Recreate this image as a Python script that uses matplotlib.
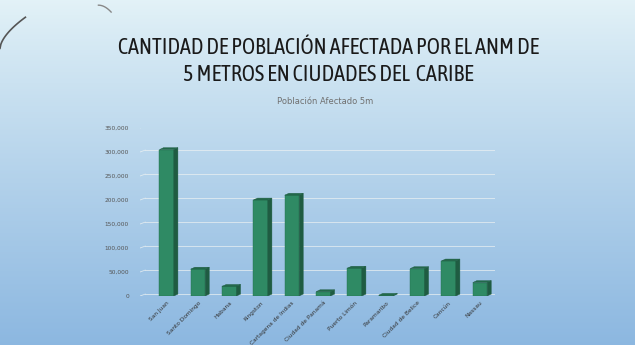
import numpy as np
import matplotlib
matplotlib.use("Agg")
import matplotlib.pyplot as plt
from matplotlib.patches import Polygon
from matplotlib import font_manager

ciudades = ["San Juan", "Santo Domingo", "Habana", "Kingston", "Cartagena de Indias",
            "Ciudad de Panamá", "Puerto Limón", "Paramaribo", "Ciudad de Belice",
            "Cancún", "Nassau"]
poblacion = [305000, 56000, 20000, 200000, 210000, 9000, 58000, 1500, 57000, 73000, 28000]
yticks = [0, 50000, 100000, 150000, 200000, 250000, 300000, 350000]

# condensed upright face for the title (Agency-like look)
cands = [f for f in font_manager.fontManager.ttflist
         if f.name in ("Asap Condensed", "Archivo Narrow")
         and f.style == "normal" and f.weight in (400, "normal", "regular")]
if cands:
    cands.sort(key=lambda f: f.name != "Asap Condensed")
    title_fp = font_manager.FontProperties(fname=cands[0].fname, size=16)
else:
    title_fp = font_manager.FontProperties(family="DejaVu Sans", size=12.5)

fig = plt.figure(figsize=(6.35, 3.45), dpi=100)

# background gradient
bg = fig.add_axes([0, 0, 1, 1], zorder=0)
grad = np.linspace(0, 1, 256).reshape(-1, 1)
top = np.array([0.89, 0.95, 0.97])
bot = np.array([0.55, 0.72, 0.88])
img = top + (bot - top) * grad[..., None] ** 0.9
img = np.repeat(img, 2, axis=1)
bg.imshow(img, aspect="auto", extent=[0, 1, 0, 1])
bg.set_xlim(0, 1)
bg.set_ylim(0, 1)
bg.axis("off")
t = np.linspace(0.0, 1.0, 30)
bg.plot(0.0 + 0.04 * t, 0.86 + 0.09 * t ** 0.6, color="#555555", lw=1.2)
bg.plot(0.155 + 0.02 * t, 0.985 - 0.02 * t ** 2, color="#888888", lw=1.0)

fig.text(0.517, 0.861, "CANTIDAD DE POBLACIÓN AFECTADA POR EL ANM DE",
         ha="center", va="center", color="#1a1a1a", fontproperties=title_fp)
fig.text(0.517, 0.783, "5 METROS EN CIUDADES DEL  CARIBE",
         ha="center", va="center", color="#1a1a1a", fontproperties=title_fp)
fig.text(0.512, 0.706, "Población Afectado 5m", ha="center", va="center",
         fontsize=6, color="#707070")

ax = fig.add_axes([140 / 635, 49 / 345, 355 / 635, 168 / 345], zorder=1)
ax.patch.set_alpha(0)
x = np.arange(len(ciudades))
w = 0.46
dx, dy = 0.13, 4000  # pseudo 3D depth

for g in yticks:
    ax.plot([-0.85 + dx * 1.3, 10.48], [g + dy, g + dy], color="#eef2f2", lw=0.6,
            alpha=0.8, zorder=0)
    ax.plot([-0.85, -0.85 + dx * 1.3], [g, g + dy], color="#eef2f2", lw=0.6,
            alpha=0.8, zorder=0)

for xi, v in zip(x, poblacion):
    l, r = xi - w / 2, xi + w / 2
    ax.add_patch(Polygon([(l, 0), (r, 0), (r, v), (l, v)], closed=True,
                         fc="#2f8a64", ec="#256e50", lw=0.3, zorder=2))
    ax.add_patch(Polygon([(r, 0), (r + dx, dy), (r + dx, v + dy), (r, v)], closed=True,
                         fc="#1f5c42", ec="#1f5c42", lw=0.3, zorder=2))
    ax.add_patch(Polygon([(l, v), (r, v), (r + dx, v + dy), (l + dx, v + dy)], closed=True,
                         fc="#23694b", ec="#1f5c42", lw=0.3, zorder=2))

ax.set_xlim(-0.85, 10.48)
ax.set_ylim(0, 350000)
ax.set_yticks(yticks)
ax.set_yticklabels([f"{v:,}" for v in yticks], fontsize=4.2, color="#555555")
ax.set_xticks(x)
ax.set_xticklabels(ciudades, rotation=45, ha="right", rotation_mode="anchor",
                   fontsize=4.2, color="#333333")
ax.tick_params(length=0, pad=8)
ax.tick_params(axis="x", pad=3)
for s in ax.spines.values():
    s.set_visible(False)

fig.savefig("out.png", dpi=100)
